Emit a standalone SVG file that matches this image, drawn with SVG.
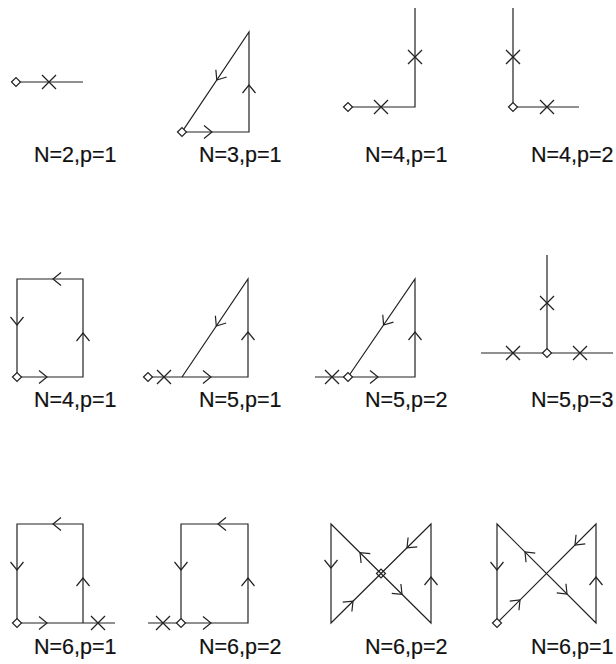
<svg xmlns="http://www.w3.org/2000/svg" xmlns:xlink="http://www.w3.org/1999/xlink" width="616" height="664" viewBox="0 0 616 664">
<style>
.ln{fill:none;stroke:#222;stroke-width:1.2;stroke-linejoin:miter}
.ar{fill:none;stroke:#222;stroke-width:1.2}
.xm{fill:none;stroke:#222;stroke-width:1.3}
.dm{fill:#fff;stroke:#222;stroke-width:1.2}
.dm0{fill:none;stroke:#222;stroke-width:1.2}
.lb{font-family:"Liberation Sans",Arial,sans-serif;font-size:21.5px;fill:#111;stroke:#111;stroke-width:0.2}
</style>
<defs>
<path id="ar" d="M-8,-6.5 L0,0 L-8,6.5"/>
<path id="xm" d="M-7,-7 L7,7 M-7,7 L7,-7"/>
<path id="dm" d="M-4.5,0 L0,-4.5 L4.5,0 L0,4.5 Z"/>
</defs>
<rect width="616" height="664" fill="#fff"/>

<g id="p1">
<path class="ln" d="M16,82 H83"/>
<use href="#xm" class="xm" x="49" y="82"/>
<use href="#dm" class="dm" x="16" y="82"/>
<text class="lb" x="34" y="162">N=2,p=1</text>
</g>

<g id="p2">
<path class="ln" d="M182,132 H249 V32 Z"/>
<g class="ar">
<use href="#ar" transform="translate(212,132)"/>
<use href="#ar" transform="translate(249,85) rotate(-90)"/>
<use href="#ar" transform="translate(216.8,80) rotate(123.8)"/>
</g>
<use href="#dm" class="dm" x="182" y="132"/>
<text class="lb" x="199" y="162">N=3,p=1</text>
</g>

<g id="p3">
<path class="ln" d="M348,107 H415 V8"/>
<use href="#xm" class="xm" x="381" y="107"/>
<use href="#xm" class="xm" x="415" y="57"/>
<use href="#dm" class="dm" x="348" y="107"/>
<text class="lb" x="365" y="162">N=4,p=1</text>
</g>

<g id="p4">
<path class="ln" d="M513,8 V107 H579"/>
<use href="#xm" class="xm" x="547" y="107"/>
<use href="#xm" class="xm" x="513" y="57"/>
<use href="#dm" class="dm" x="513" y="107"/>
<text class="lb" x="531" y="162">N=4,p=2</text>
</g>

<g id="p5">
<path class="ln" d="M17,377 H83 V279 H17 Z"/>
<g class="ar">
<use href="#ar" transform="translate(47,377)"/>
<use href="#ar" transform="translate(83,333) rotate(-90)"/>
<use href="#ar" transform="translate(53,279) rotate(180)"/>
<use href="#ar" transform="translate(17,325) rotate(90)"/>
</g>
<use href="#dm" class="dm" x="17" y="377"/>
<text class="lb" x="34" y="407">N=4,p=1</text>
</g>

<g id="p6">
<path class="ln" d="M148,377 H248 V279 L182,377"/>
<use href="#xm" class="xm" x="164" y="377"/>
<g class="ar">
<use href="#ar" transform="translate(211,377)"/>
<use href="#ar" transform="translate(248,332) rotate(-90)"/>
<use href="#ar" transform="translate(216.3,326) rotate(124)"/>
</g>
<use href="#dm" class="dm" x="148" y="377"/>
<text class="lb" x="199" y="407">N=5,p=1</text>
</g>

<g id="p7">
<path class="ln" d="M315,377 H415 V279 L348,377"/>
<use href="#xm" class="xm" x="332" y="377"/>
<g class="ar">
<use href="#ar" transform="translate(378,377)"/>
<use href="#ar" transform="translate(415,332) rotate(-90)"/>
<use href="#ar" transform="translate(383.6,325) rotate(124.4)"/>
</g>
<use href="#dm" class="dm" x="348" y="377"/>
<text class="lb" x="365" y="407">N=5,p=2</text>
</g>

<g id="p8">
<path class="ln" d="M481,353 H613 M547,255 V353"/>
<use href="#xm" class="xm" x="513" y="353"/>
<use href="#xm" class="xm" x="580" y="353"/>
<use href="#xm" class="xm" x="547" y="303"/>
<use href="#dm" class="dm" x="547" y="353"/>
<text class="lb" x="531" y="407">N=5,p=3</text>
</g>

<g id="p9">
<path class="ln" d="M17,623 H115 M83,623 V524 H17 V623"/>
<use href="#xm" class="xm" x="98" y="623"/>
<g class="ar">
<use href="#ar" transform="translate(47,623)"/>
<use href="#ar" transform="translate(83,578) rotate(-90)"/>
<use href="#ar" transform="translate(53,524) rotate(180)"/>
<use href="#ar" transform="translate(17,570) rotate(90)"/>
</g>
<use href="#dm" class="dm" x="17" y="623"/>
<text class="lb" x="34" y="654">N=6,p=1</text>
</g>

<g id="p10">
<path class="ln" d="M148,623 H248 V524 H181 V623"/>
<use href="#xm" class="xm" x="163" y="623"/>
<g class="ar">
<use href="#ar" transform="translate(211,623)"/>
<use href="#ar" transform="translate(248,578) rotate(-90)"/>
<use href="#ar" transform="translate(218,524) rotate(180)"/>
<use href="#ar" transform="translate(181,570) rotate(90)"/>
</g>
<use href="#dm" class="dm" x="181" y="623"/>
<text class="lb" x="199" y="654">N=6,p=2</text>
</g>

<g id="p11">
<path class="ln" d="M331,524 L431,623 V524 L331,623 Z"/>
<g class="ar">
<use href="#ar" transform="translate(331,568) rotate(90)"/>
<use href="#ar" transform="translate(431,577) rotate(-90)"/>
<use href="#ar" transform="translate(360,552.7) rotate(-135.3)"/>
<use href="#ar" transform="translate(402,594.3) rotate(44.7)"/>
<use href="#ar" transform="translate(407,547.8) rotate(135.3)"/>
<use href="#ar" transform="translate(353,601.2) rotate(-44.7)"/>
</g>
<use href="#dm" class="dm0" x="381" y="573.5"/>
<text class="lb" x="365" y="654">N=6,p=2</text>
</g>

<g id="p12">
<path class="ln" d="M497,524 L596,623 V524 L497,623 Z"/>
<g class="ar">
<use href="#ar" transform="translate(497,570) rotate(90)"/>
<use href="#ar" transform="translate(596,577) rotate(-90)"/>
<use href="#ar" transform="translate(525,552) rotate(-135)"/>
<use href="#ar" transform="translate(567,594) rotate(45)"/>
<use href="#ar" transform="translate(575,545) rotate(135)"/>
<use href="#ar" transform="translate(520,600) rotate(-45)"/>
</g>
<use href="#dm" class="dm" x="497" y="623"/>
<text class="lb" x="531" y="654">N=6,p=1</text>
</g>
</svg>
